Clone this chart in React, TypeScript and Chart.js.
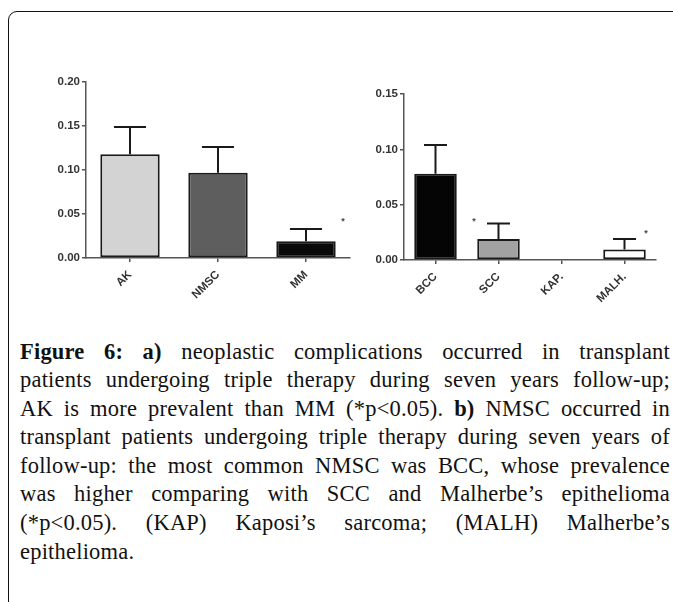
import React, { useEffect, useRef } from 'react';
import { Chart, registerables } from 'chart.js';

Chart.register(...registerables);

// ---- Panel a) ----
const leftCategories = ['AK', 'NMSC', 'MM'];
const leftValues = [0.118, 0.097, 0.019];
const leftErrors = [0.031, 0.029, 0.014];
const leftColors = ['#d3d3d3', '#5e5e5e', '#0a0a0a'];
const leftTicks = [0, 0.05, 0.1, 0.15, 0.2];
const leftStars = [{ index: 2, dx: 0.42, value: 0.041 }];

// ---- Panel b) ----
const rightCategories = ['BCC', 'SCC', 'KAP.', 'MALH.'];
const rightValues = [0.078, 0.019, 0, 0.0095];
const rightErrors = [0.026, 0.014, 0, 0.0095];
const rightColors = ['#050505', '#a2a2a2', '#ffffff', '#ffffff'];
const rightTicks = [0, 0.05, 0.1, 0.15];
const rightStars = [
  { index: 1, dx: -0.39, value: 0.035 },
  { index: 3, dx: 0.34, value: 0.024 },
];

const errorBarPlugin = {
  id: 'errorBars',
  afterDatasetsDraw(chart: any, _args: any, opts: any) {
    const { ctx } = chart;
    const meta = chart.getDatasetMeta(0);
    const ys = chart.scales.y;
    const xs = chart.scales.x;
    const vals = chart.data.datasets[0].data;
    ctx.save();
    ctx.strokeStyle = '#1a1a1a';
    ctx.lineWidth = 2;
    (opts.errors || []).forEach((e: number, i: number) => {
      if (!e) return;
      const el = meta.data[i];
      const top = ys.getPixelForValue(vals[i] + e);
      const half = el.width * 0.27;
      ctx.beginPath();
      ctx.moveTo(el.x, el.y);
      ctx.lineTo(el.x, top);
      ctx.moveTo(el.x - half, top);
      ctx.lineTo(el.x + half, top);
      ctx.stroke();
    });
    ctx.fillStyle = '#444';
    ctx.font = 'bold 9px "Liberation Sans"';
    ctx.textAlign = 'center';
    ctx.textBaseline = 'middle';
    const cw = xs.width / chart.data.labels.length;
    (opts.stars || []).forEach((s: any) => {
      const x = xs.getPixelForValue(s.index) + s.dx * cw;
      const y = ys.getPixelForValue(s.value);
      ctx.fillText('*', x, y);
    });
    ctx.restore();
  },
};

type PanelProps = {
  left: number; top: number; width: number; height: number;
  categories: string[]; values: number[]; errors: number[]; colors: string[];
  ticks: number[]; stars: any[];
  yWidth: number; xHeight: number; padTop: number; padRight: number;
};

function BarPanel(p: PanelProps) {
  const ref = useRef<HTMLCanvasElement>(null);
  useEffect(() => {
    const tickFont = { family: '"Liberation Sans", Arial, sans-serif', size: 11.5, weight: 'bold' as const };
    const chart = new Chart(ref.current as HTMLCanvasElement, {
      type: 'bar',
      data: {
        labels: p.categories,
        datasets: [
          {
            data: p.values,
            backgroundColor: p.colors,
            borderColor: '#1a1a1a',
            borderWidth: 2,
            borderSkipped: false,
            barPercentage: 0.675,
            categoryPercentage: 1,
          },
        ],
      },
      options: {
        responsive: false,
        animation: false,
        events: [],
        layout: { padding: { top: p.padTop, right: p.padRight, left: 0, bottom: 0 } },
        plugins: {
          legend: { display: false },
          tooltip: { enabled: false },
          errorBars: { errors: p.errors, stars: p.stars },
        } as any,
        scales: {
          x: {
            grid: { offset: false, drawOnChartArea: false, drawTicks: true, tickLength: 4, color: '#555', lineWidth: 1.5 },
            border: { display: true, color: '#555', width: 1.5 },
            ticks: { minRotation: 45, maxRotation: 45, font: tickFont, color: '#333', padding: 6 },
            afterFit: (s: any) => { s.height = p.xHeight; },
          },
          y: {
            min: 0,
            max: p.ticks[p.ticks.length - 1],
            afterBuildTicks: (s: any) => { s.ticks = p.ticks.map((v) => ({ value: v })); },
            grid: { drawOnChartArea: false, drawTicks: true, tickLength: 4, color: '#555', lineWidth: 1.5 },
            border: { display: true, color: '#555', width: 1.5 },
            ticks: {
              font: tickFont,
              color: '#333',
              padding: 2,
              callback: (v: any) => Number(v).toFixed(2),
            },
            afterFit: (s: any) => { s.width = p.yWidth; },
          },
        },
      },
      plugins: [errorBarPlugin as any],
    });
    return () => chart.destroy();
  }, []);
  return (
    <canvas
      ref={ref}
      width={p.width}
      height={p.height}
      style={{ position: 'absolute', left: p.left, top: p.top, width: p.width, height: p.height }}
    />
  );
}

const captionLines: { parts: [string, boolean][]; last?: boolean }[] = [
  { parts: [['Figure 6:', true], [' ', false], ['a)', true], [' neoplastic complications occurred in transplant', false]] },
  { parts: [['patients undergoing triple therapy during seven years follow-up;', false]] },
  { parts: [['AK is more prevalent than MM (*p<0.05). ', false], ['b)', true], [' NMSC occurred in', false]] },
  { parts: [['transplant patients undergoing triple therapy during seven years of', false]] },
  { parts: [['follow-up: the most common NMSC was BCC, whose prevalence', false]] },
  { parts: [['was higher comparing with SCC and Malherbe\u2019s epithelioma', false]] },
  { parts: [['(*p<0.05). (KAP) Kaposi\u2019s sarcoma; (MALH) Malherbe\u2019s', false]] },
  { parts: [['epithelioma.', false]], last: true },
];

export default function App() {
  useEffect(() => {
    document.body.style.margin = '0';
    document.documentElement.style.overflow = 'hidden';
  }, []);
  return (
    <div style={{ position: 'relative', width: 673, height: 602, overflow: 'hidden', background: '#fff' }}>
      <div
        style={{
          position: 'absolute', left: 8, top: 11, width: 720, height: 700,
          border: '1.5px solid #111', borderRadius: 9, boxSizing: 'border-box',
        }}
      />
      <BarPanel
        left={30} top={60} width={330} height={260}
        categories={leftCategories} values={leftValues} errors={leftErrors} colors={leftColors}
        ticks={leftTicks} stars={leftStars}
        yWidth={56} xHeight={62} padTop={22} padRight={10}
      />
      <BarPanel
        left={360} top={60} width={313} height={260}
        categories={rightCategories} values={rightValues} errors={rightErrors} colors={rightColors}
        ticks={rightTicks} stars={rightStars}
        yWidth={44} xHeight={60} padTop={34} padRight={17}
      />
      <div
        style={{
          position: 'absolute', left: 20, top: 337.5, width: 650,
          fontFamily: '"Liberation Serif", "Times New Roman", serif',
          fontSize: 22.5, letterSpacing: '0.2px', lineHeight: '28.6px', color: '#111',
        }}
      >
        {captionLines.map((ln, i) => (
          <div key={i} style={{ textAlign: ln.last ? 'left' : 'justify', textAlignLast: ln.last ? 'left' : 'justify' } as any}>
            {ln.parts.map(([t, b], j) => (b ? <b key={j}>{t}</b> : <span key={j}>{t}</span>))}
          </div>
        ))}
      </div>
    </div>
  );
}
